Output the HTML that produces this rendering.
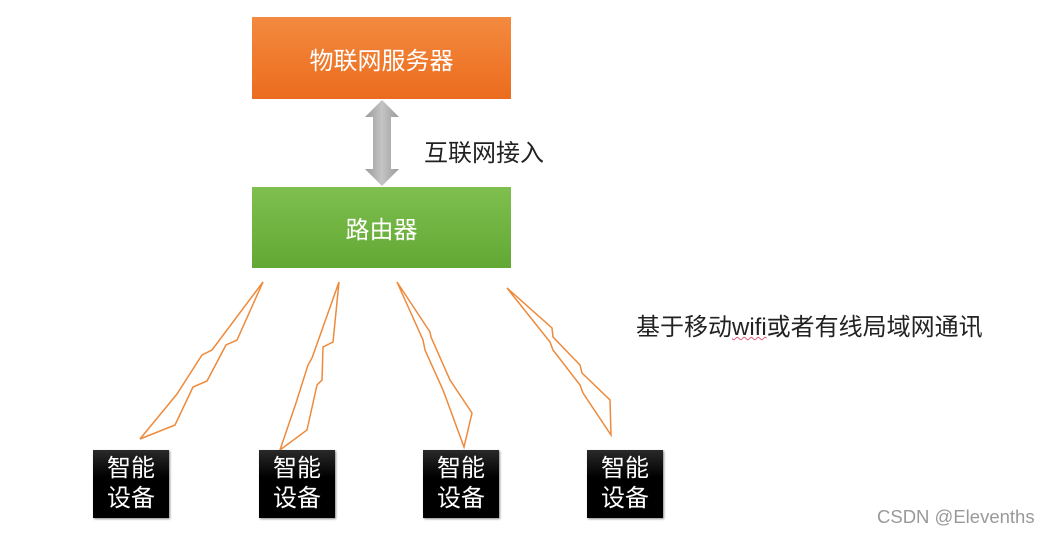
<!DOCTYPE html>
<html><head><meta charset="utf-8"><style>
html,body{margin:0;padding:0;background:#fff;}
body{width:1052px;height:536px;position:relative;overflow:hidden;font-family:"Liberation Sans","Noto Sans CJK SC",sans-serif;}
.box{position:absolute;color:#fff;display:flex;align-items:center;justify-content:center;}
.dev{position:absolute;width:76px;height:68px;background:linear-gradient(#2a2a2a,#000 40%);color:#fff;font-size:24px;line-height:30px;text-align:center;display:flex;align-items:center;justify-content:center;box-shadow:1px 1px 2px #888;}
.t{position:absolute;white-space:nowrap;color:#222;}
</style></head><body>
<div class="box" style="left:252px;top:17px;width:259px;height:82px;background:linear-gradient(#f38a3f,#ec6c1e);font-size:24px;">物联网服务器</div>
<div class="box" style="left:252px;top:187px;width:259px;height:81px;background:linear-gradient(#7fbf4f,#62a834);font-size:24px;">路由器</div>
<svg width="1052" height="536" style="position:absolute;left:0;top:0">
<defs><linearGradient id="g" x1="0" x2="1"><stop offset="0" stop-color="#9a9a9a"/><stop offset="0.5" stop-color="#c4c4c4"/><stop offset="1" stop-color="#9a9a9a"/></linearGradient></defs>
<polygon points="382,100 399,117 391,117 391,169 399,169 382,186 365,169 373,169 373,117 365,117" fill="url(#g)"/>
<g fill="none" stroke="#ee8a3c" stroke-width="1.5" stroke-linejoin="miter">
<polygon points="263,282 212,350 202,355 177,394 140,439 175,425 193,387 207,381 226,345 237,340"/>
<polygon points="339,282 312,358 308,365 296,403 280,450 307,430 317,385 322,380 323,347 333,342"/>
<polygon points="397,282 430,332 431,337 450,380 472,413 464,447 446,398 443,390 425,350 423,340"/>
<polygon points="507,288 552,328 553,337 580,365 582,373 610,400 611,435 583,393 580,385 553,350 550,342"/>
</g>
</svg>
<div class="t" style="left:424px;top:133px;font-size:24px;">互联网接入</div>
<div class="t" style="left:636px;top:307px;font-size:24px;">基于移动<span style="text-decoration:underline wavy #e06080;text-decoration-thickness:1px;">wifi</span>或者有线局域网通讯</div>
<div class="dev" style="left:93px;top:450px;">智能<br>设备</div>
<div class="dev" style="left:259px;top:450px;">智能<br>设备</div>
<div class="dev" style="left:423px;top:450px;">智能<br>设备</div>
<div class="dev" style="left:587px;top:450px;">智能<br>设备</div>
<div class="t" style="left:877px;top:506px;font-size:18.5px;color:#999;">CSDN @Elevenths</div>
</body></html>
